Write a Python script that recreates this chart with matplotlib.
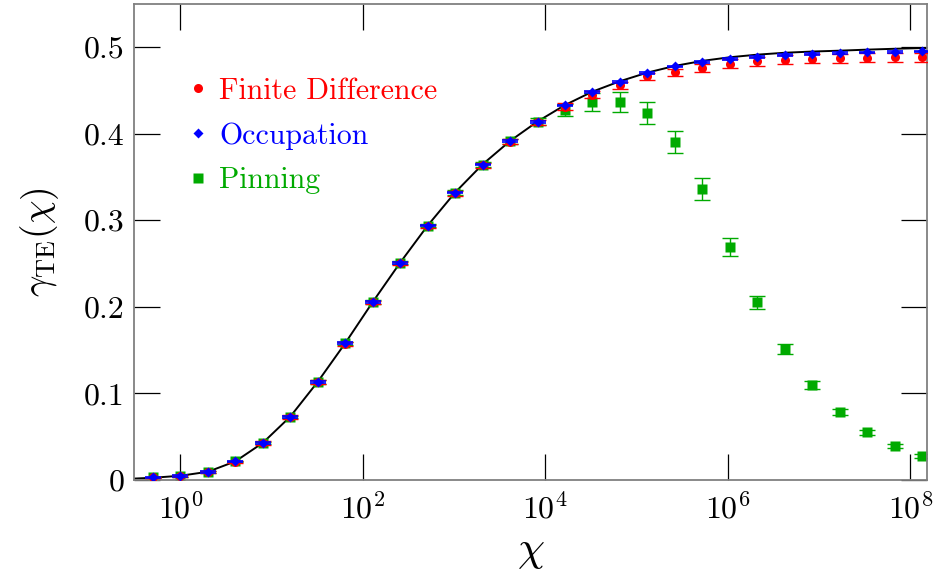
import numpy as np
import matplotlib
matplotlib.use("Agg")
import matplotlib.pyplot as plt
from matplotlib.ticker import FixedLocator, LogFormatterMathtext, FixedFormatter, NullLocator
from matplotlib.lines import Line2D

plt.rcParams['font.family'] = ['cmr10', 'DejaVu Serif']
plt.rcParams['mathtext.fontset'] = 'cm'
plt.rcParams['axes.formatter.use_mathtext'] = True

# ---- data ----
exponents = list(range(-1, 28))          # chi = 2**k
occupation = [0.0030, 0.0050, 0.0093, 0.0215, 0.0429, 0.0730, 0.1134, 0.1578, 0.2055,
              0.2510, 0.2938, 0.3320, 0.3643, 0.3913, 0.4137, 0.4325, 0.4480, 0.4600,
              0.4700, 0.4776, 0.4827, 0.4862, 0.4884, 0.4910, 0.4922, 0.4931, 0.4938,
              0.4942, 0.4949]
occupation_err = [0.001] * 29
finite_diff = [0.0029, 0.0049, 0.0091, 0.0212, 0.0425, 0.0726, 0.1130, 0.1573, 0.2050,
               0.2503, 0.2930, 0.3312, 0.3635, 0.3905, 0.4130, 0.4310, 0.4450, 0.4560,
               0.4660, 0.4710, 0.4757, 0.4807, 0.4835, 0.4853, 0.4865, 0.4870, 0.4878,
               0.4882, 0.4882]
finite_diff_err = [0.001, 0.001, 0.001, 0.001, 0.002, 0.002, 0.002, 0.002, 0.002,
                   0.002, 0.002, 0.003, 0.003, 0.003, 0.003, 0.004, 0.004, 0.004,
                   0.004, 0.004, 0.005, 0.005, 0.005, 0.005, 0.005, 0.005, 0.005,
                   0.005, 0.005]
pinning = [0.0030, 0.0050, 0.0093, 0.0215, 0.0429, 0.0730, 0.1134, 0.1578, 0.2055,
           0.2510, 0.2938, 0.3320, 0.3643, 0.3913, 0.4137, 0.4270, 0.4368, 0.4368,
           0.4242, 0.3905, 0.3360, 0.2690, 0.2050, 0.1510, 0.1096, 0.0784, 0.0553,
           0.0394, 0.0279]
pinning_err = [0.001, 0.001, 0.001, 0.001, 0.001, 0.001, 0.002, 0.002, 0.002,
               0.002, 0.002, 0.003, 0.003, 0.003, 0.004, 0.007, 0.0105, 0.0115,
               0.0127, 0.013, 0.0123, 0.0104, 0.008, 0.006, 0.0045, 0.0035, 0.003,
               0.0025, 0.002]
curve_exponents = [-2, -1, 0, 1, 2, 3, 4, 5, 6, 7, 8, 9, 10, 11, 12, 13, 14, 15, 16,
                   17, 18, 19, 20, 21, 22, 23, 24, 25, 26, 27, 27.3]
curve = [0.0012, 0.0026, 0.0049, 0.0095, 0.0215, 0.0429, 0.0732, 0.1134, 0.1580,
         0.2055, 0.2510, 0.2938, 0.3320, 0.3645, 0.3915, 0.4140, 0.4330, 0.4485,
         0.4605, 0.4705, 0.4782, 0.4840, 0.4882, 0.4912, 0.4934, 0.4948, 0.4958,
         0.4970, 0.4980, 0.4988, 0.4990]
series_labels = ["Finite Difference", "Occupation", "Pinning"]
xtick_values = [1e0, 1e2, 1e4, 1e6, 1e8]
ytick_values = [0, 0.1, 0.2, 0.3, 0.4, 0.5]
ytick_labels = ["0", "0.1", "0.2", "0.3", "0.4", "0.5"]

chi = 2.0 ** np.array(exponents)
chi_curve = 2.0 ** np.array(curve_exponents)

RED = '#ff0000'
BLUE = '#0000ff'
GREEN = '#00aa00'

fig = plt.figure(figsize=(9.35, 5.84), dpi=100)
ax = fig.add_axes([134/935, 1 - 480/584, (927-134)/935, (480-4)/584])

ax.plot(chi_curve, curve, color='black', lw=1.4, zorder=1)

ax.errorbar(chi, pinning, yerr=pinning_err, fmt='none', ecolor=GREEN, elinewidth=1.0,
            capsize=5.5, capthick=1.0, zorder=2)
ax.plot(chi, pinning, ls='none', marker='s', ms=7, color=GREEN, mec='none', zorder=2)
ax.errorbar(chi, finite_diff, yerr=finite_diff_err, fmt='none', ecolor=RED, elinewidth=1.0,
            capsize=5.5, capthick=1.0, zorder=3)
ax.plot(chi, finite_diff, ls='none', marker='o', ms=6.5, color=RED, mec='none', zorder=3)
ax.errorbar(chi, occupation, yerr=occupation_err, fmt='none', ecolor=BLUE, elinewidth=1.0,
            capsize=5.5, capthick=1.2, zorder=4)
ax.plot(chi, occupation, ls='none', marker='D', ms=5, color=BLUE, mec='none', zorder=4)

ax.set_xscale('log')
ax.set_xlim(0.31, 1.52e8)
ax.set_ylim(0, 0.5497)

ax.xaxis.set_major_locator(FixedLocator(xtick_values))
ax.xaxis.set_major_formatter(LogFormatterMathtext())
ax.xaxis.set_minor_locator(NullLocator())
ax.yaxis.set_major_locator(FixedLocator(ytick_values))
ax.yaxis.set_major_formatter(FixedFormatter(ytick_labels))

ax.tick_params(axis='both', which='major', direction='in', length=19, width=0.9,
               color='black', top=True, right=True, labelsize=23)
ax.tick_params(axis='x', pad=9)
ax.tick_params(axis='y', pad=7)
for sp in ax.spines.values():
    sp.set_color('#808080')
    sp.set_linewidth(1.3)

ax.set_xlabel(r'$\chi$', fontsize=31, labelpad=7)
ax.set_ylabel(r'$\gamma_{\mathrm{TE}}(\chi)$', fontsize=27, labelpad=16)

handles = [
    Line2D([], [], ls='none', marker='o', ms=6.5, color=RED, mec='none'),
    Line2D([], [], ls='none', marker='D', ms=5, color=BLUE, mec='none'),
    Line2D([], [], ls='none', marker='s', ms=7, color=GREEN, mec='none'),
]
leg = ax.legend(handles, series_labels, loc='upper left', bbox_to_anchor=(0.068, 0.846),
                frameon=False, fontsize=21.5, handlelength=0.7, handletextpad=0.35,
                labelspacing=0.58, borderpad=0, borderaxespad=0)
for txt, col in zip(leg.get_texts(), [RED, BLUE, GREEN]):
    txt.set_color(col)

fig.savefig('out.png', dpi=100)
